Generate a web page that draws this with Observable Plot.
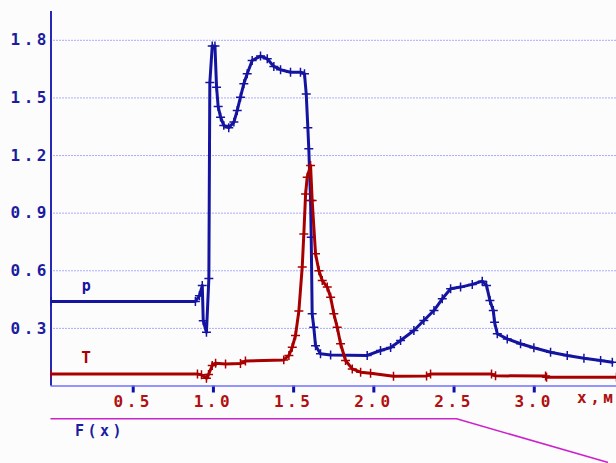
<!DOCTYPE html>
<html><head><meta charset="utf-8">
<script src="https://cdn.jsdelivr.net/npm/d3@7"></script>
<script src="https://cdn.jsdelivr.net/npm/@observablehq/plot@0.6"></script>
<style>
body{margin:0;background:#fcfcfc;}
#chart{width:616px;height:463px;overflow:hidden;background:#fcfcfc;}
svg{display:block}
</style></head><body><div id="chart"></div>
<script>
// Pressure p(x)
const pX = [0, 0.90, 0.925, 0.943, 0.949, 0.969, 0.984, 0.99, 1.005, 1.022, 1.032, 1.042, 1.057, 1.077, 1.108, 1.14, 1.161, 1.181, 1.202, 1.223, 1.254, 1.306, 1.348, 1.389, 1.431, 1.493, 1.555, 1.58, 1.591, 1.601, 1.607, 1.618, 1.622, 1.628, 1.638, 1.649, 1.68, 1.743, 1.971, 2.054, 2.117, 2.179, 2.262, 2.324, 2.387, 2.439, 2.491, 2.553, 2.626, 2.688, 2.715, 2.736, 2.757, 2.765, 2.782, 2.844, 2.927, 3.01, 3.114, 3.218, 3.322, 3.426, 3.499];
const pY = [0.44, 0.44, 0.47, 0.523, 0.34, 0.28, 0.56, 1.58, 1.77, 1.77, 1.556, 1.455, 1.40, 1.357, 1.345, 1.374, 1.435, 1.504, 1.574, 1.626, 1.695, 1.718, 1.704, 1.664, 1.647, 1.634, 1.634, 1.626, 1.52, 1.345, 1.235, 0.966, 0.775, 0.376, 0.306, 0.21, 0.168, 0.161, 0.159, 0.185, 0.2, 0.237, 0.289, 0.341, 0.393, 0.454, 0.506, 0.515, 0.529, 0.546, 0.523, 0.445, 0.393, 0.332, 0.272, 0.245, 0.22, 0.199, 0.176, 0.159, 0.145, 0.133, 0.124];
// Temperature T(x)
const tX = [0, 0.913, 0.938, 0.969, 0.982, 1.005, 1.026, 1.088, 1.181, 1.212, 1.451, 1.483, 1.504, 1.524, 1.545, 1.566, 1.576, 1.587, 1.597, 1.618, 1.628, 1.649, 1.67, 1.691, 1.722, 1.743, 1.763, 1.784, 1.805, 1.836, 1.878, 1.93, 1.992, 2.135, 2.341, 2.366, 2.746, 2.771, 3.083, 3.089, 3.525];
const tY = [0.0625, 0.0625, 0.058, 0.04, 0.06, 0.107, 0.119, 0.115, 0.117, 0.13, 0.136, 0.159, 0.202, 0.263, 0.39, 0.62, 0.792, 1.0, 1.087, 1.148, 0.966, 0.688, 0.60, 0.549, 0.515, 0.462, 0.376, 0.306, 0.22, 0.133, 0.089, 0.072, 0.066, 0.051, 0.052, 0.062, 0.062, 0.053, 0.052, 0.045, 0.045];
// F(x)
const fX = [0, 2.528, 3.468];
const fY = [1, 1, 0.5];

const yTicks = [0.3, 0.6, 0.9, 1.2, 1.5, 1.8];
const xTicks = [0.5, 1.0, 1.5, 2.0, 2.5, 3.0];
const xLabel = "x,м";
const fLabel = "F(x)";
const pName = "p", tName = "T";

const P = pX.map((x, i) => ({x, y: pY[i]}));
const T = tX.map((x, i) => ({x, y: tY[i]}));
const F = fX.map((x, i) => ({x, y: fY[i]}));

const blue = "#1414a0", red = "#a80000";
const font = {fontFamily: "DejaVu Sans Mono", fontWeight: "bold", fontSize: "16px", letterSpacing: "3.5px", background: "#fcfcfc"};

const main = Plot.plot({
  width: 616, height: 412,
  marginTop: 11, marginBottom: 26.5, marginLeft: 50.5, marginRight: 0,
  x: {domain: [0, 3.525]},
  y: {domain: [0, 1.95]},
  style: font,
  marks: [
    Plot.ruleY(yTicks, {stroke: "#5a5aff", strokeDasharray: "1,2", strokeWidth: 1}),
    Plot.axisY({ticks: yTicks, tickSize: 0, tickPadding: 1, tickFormat: d => d.toFixed(1), fill: "#1c1ca0", label: null}),
    Plot.axisX({ticks: xTicks, tickSize: 7, tickPadding: 3, stroke: "#1010a8", strokeWidth: 3, fill: "#b01010", tickFormat: d => d.toFixed(1), dx: 2, label: null}),
    Plot.ruleY([0], {stroke: "#7272ff", strokeWidth: 1.5}),
    Plot.ruleX([0], {stroke: "#2828b8", strokeWidth: 2}),
    Plot.line(P, {x: "x", y: "y", stroke: blue, strokeWidth: 3, clip: true}),
    Plot.dot(P, {x: "x", y: "y", symbol: "plus", r: 3, stroke: blue, strokeWidth: 1.5, clip: true}),
    Plot.line(T, {x: "x", y: "y", stroke: red, strokeWidth: 3, clip: true}),
    Plot.dot(T, {x: "x", y: "y", symbol: "plus", r: 3, stroke: red, strokeWidth: 1.5, clip: true}),
    Plot.text([P[0]], {x: () => 0.23, y: "y", text: () => pName, dy: -15, fill: blue, fontSize: 15}),
    Plot.text([T[0]], {x: () => 0.23, y: "y", text: () => tName, dy: -16, fill: red, fontSize: 16}),
    Plot.text([xLabel], {frameAnchor: "bottom-right", text: d => d, textAnchor: "end", dy: 17, fill: "#b01010", letterSpacing: "2px", dx: 0})
  ]
});

const sub = Plot.plot({
  width: 616, height: 51,
  marginTop: 6.3, marginBottom: 1.3, marginLeft: 50.5, marginRight: 0,
  x: {domain: [0, 3.525], axis: null},
  y: {domain: [0.5, 1], axis: null},
  style: font,
  marks: [
    Plot.line(F, {x: "x", y: "y", stroke: "#cc22cc", strokeWidth: 1.5}),
    Plot.text([fLabel], {x: () => 0.293, y: () => 1, text: d => d, dy: 12, dx: 2, fill: "#1c1ca0", fontSize: 15, letterSpacing: "2.5px"})
  ]
});

const c = document.getElementById("chart");
c.appendChild(main);
c.appendChild(sub);
</script></body></html>
